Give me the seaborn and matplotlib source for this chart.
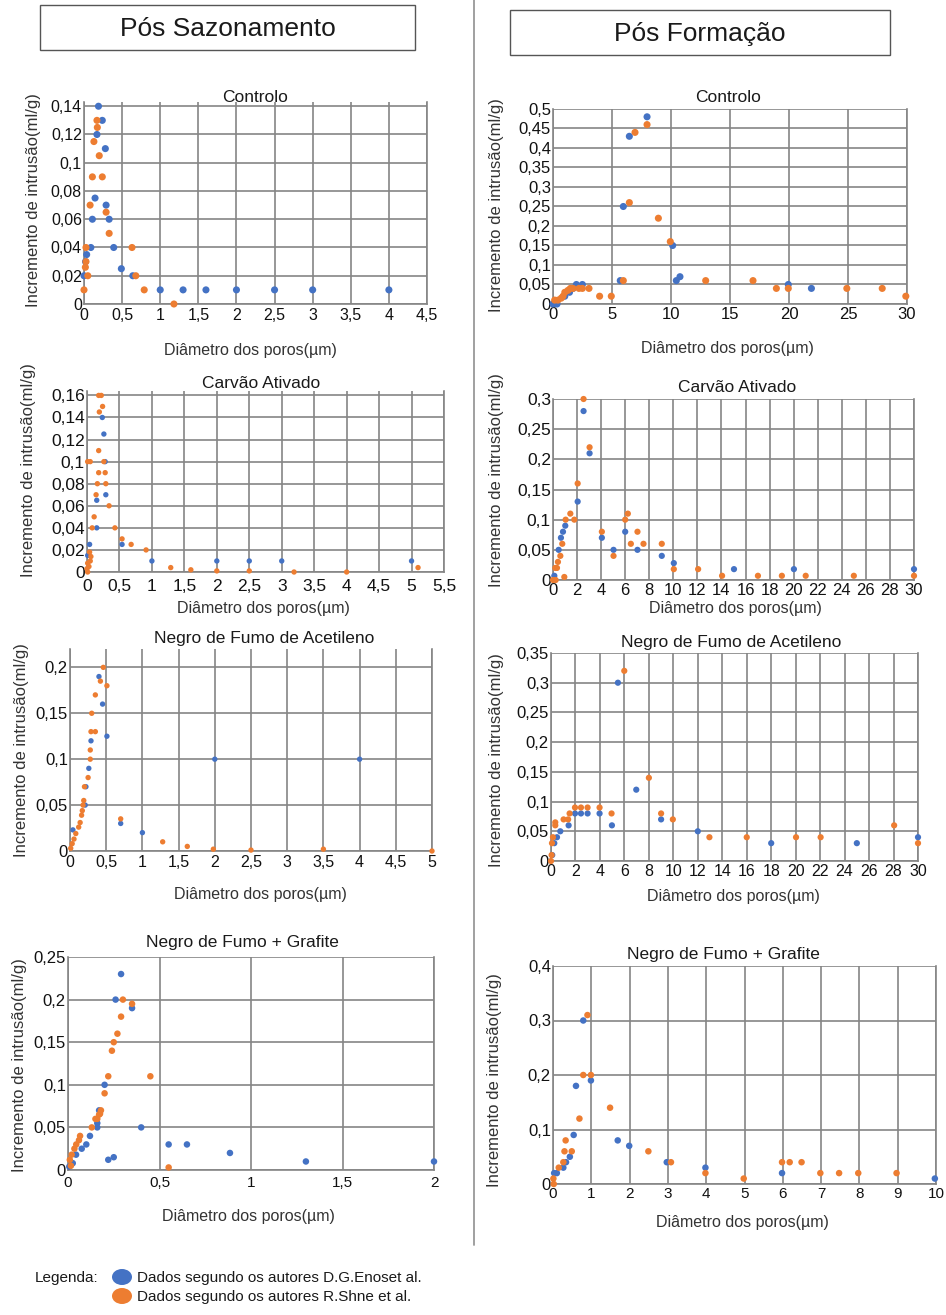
import numpy as np
import pandas as pd
import seaborn as sns
import matplotlib
matplotlib.use('Agg')
import matplotlib.pyplot as plt
from matplotlib.patches import Rectangle, Ellipse
from matplotlib.lines import Line2D
from matplotlib.ticker import MultipleLocator, FuncFormatter

sns.set_style('white')
plt.rcParams['font.family'] = ['Liberation Sans', 'DejaVu Sans']

BLUE = '#4472C4'
ORANGE = '#ED7D31'
GRID = '#858585'

# ---------------- Pós Sazonamento ----------------
# Controlo
saz_ctrl_bx = [0.19, 0.24, 0.17, 0.28, 0.145, 0.29, 0.11, 0.33, 0.09, 0.39, 0.035, 0.02, 0.0, 0.49, 0.64,
               1.0, 1.3, 1.6, 2.0, 2.5, 3.0, 4.0]
saz_ctrl_by = [0.14, 0.13, 0.12, 0.11, 0.075, 0.07, 0.06, 0.06, 0.04, 0.04, 0.035, 0.03, 0.02, 0.025, 0.02,
               0.01, 0.01, 0.01, 0.01, 0.01, 0.01, 0.01]
saz_ctrl_ox = [0.17, 0.175, 0.13, 0.2, 0.11, 0.24, 0.08, 0.29, 0.33, 0.026, 0.63, 0.026, 0.018, 0.05, 0.68,
               0.0, 0.79, 1.18]
saz_ctrl_oy = [0.13, 0.125, 0.115, 0.105, 0.09, 0.09, 0.07, 0.065, 0.05, 0.04, 0.04, 0.03, 0.026, 0.02, 0.02,
               0.01, 0.01, 0.0]

# Carvão Ativado
saz_carv_bx = [0.236, 0.26, 0.28, 0.29, 0.15, 0.15, 0.04, 0.54, 1.0, 2.0, 2.5, 3.0, 5.0, 0.01]
saz_carv_by = [0.14, 0.125, 0.10, 0.07, 0.065, 0.04, 0.025, 0.025, 0.01, 0.01, 0.01, 0.01, 0.01, 0.015]
saz_carv_ox = [0.18, 0.22, 0.24, 0.19, 0.18, 0.01, 0.05, 0.26, 0.18, 0.28, 0.16, 0.29, 0.14, 0.34, 0.11,
               0.08, 0.43, 0.54, 0.68, 0.91, 1.29, 1.6, 2.0, 2.5, 3.19, 4.0, 5.1, 0.04, 0.06, 0.05, 0.01,
               0.0, 0.01, 0.03]
saz_carv_oy = [0.16, 0.16, 0.15, 0.145, 0.11, 0.10, 0.10, 0.10, 0.09, 0.09, 0.08, 0.08, 0.07, 0.06, 0.05,
               0.04, 0.04, 0.03, 0.025, 0.02, 0.004, 0.002, 0.001, 0.001, 0.0, 0.0, 0.004, 0.018, 0.014, 0.01,
               0.008, 0.003, 0.0, 0.005]

# Negro de Fumo de Acetileno
saz_acet_bx = [0.40, 0.45, 0.51, 0.29, 0.26, 0.22, 0.21, 0.70, 1.0, 2.0, 4.0, 0.04]
saz_acet_by = [0.19, 0.16, 0.125, 0.12, 0.09, 0.07, 0.05, 0.03, 0.02, 0.10, 0.10, 0.023]
saz_acet_ox = [0.46, 0.42, 0.51, 0.35, 0.30, 0.29, 0.35, 0.28, 0.28, 0.25, 0.20, 0.19, 0.18, 0.17, 0.16,
               0.14, 0.12, 0.08, 0.055, 0.03, 0.01, 0.70, 1.28, 1.62, 1.98, 2.5, 3.5, 5.0]
saz_acet_oy = [0.20, 0.185, 0.18, 0.17, 0.15, 0.13, 0.13, 0.11, 0.10, 0.08, 0.07, 0.055, 0.05, 0.044, 0.039,
               0.031, 0.026, 0.019, 0.013, 0.008, 0.003, 0.035, 0.01, 0.005, 0.002, 0.001, 0.002, 0.0]

# Negro de Fumo + Grafite
saz_graf_bx = [0.29, 0.26, 0.35, 0.20, 0.17, 0.16, 0.16, 0.12, 0.10, 0.075, 0.044, 0.026, 0.007, 0.22, 0.25,
               0.40, 0.55, 0.65, 0.885, 1.30, 2.0]
saz_graf_by = [0.23, 0.20, 0.19, 0.10, 0.07, 0.05, 0.055, 0.04, 0.03, 0.025, 0.018, 0.008, 0.004, 0.012, 0.015,
               0.05, 0.03, 0.03, 0.02, 0.01, 0.01]
saz_graf_ox = [0.30, 0.35, 0.29, 0.27, 0.25, 0.24, 0.22, 0.45, 0.20, 0.18, 0.175, 0.17, 0.16, 0.15, 0.13,
               0.066, 0.06, 0.045, 0.035, 0.02, 0.016, 0.01, 0.55]
saz_graf_oy = [0.20, 0.195, 0.18, 0.16, 0.15, 0.14, 0.11, 0.11, 0.09, 0.07, 0.066, 0.065, 0.06, 0.06, 0.05,
               0.04, 0.035, 0.03, 0.025, 0.018, 0.005, 0.012, 0.003]

# ---------------- Pós Formação ----------------
# Controlo
form_ctrl_bx = [7.97, 6.47, 5.96, 10.14, 5.7, 10.45, 10.76, 19.94, 21.9, 0.0, 0.34, 1.0, 1.4, 1.7, 1.98, 2.49]
form_ctrl_by = [0.48, 0.43, 0.25, 0.15, 0.06, 0.06, 0.07, 0.05, 0.04, 0.0, 0.0, 0.02, 0.03, 0.04, 0.05, 0.05]
form_ctrl_ox = [7.97, 6.95, 6.47, 8.93, 9.94, 5.96, 12.94, 16.95, 18.93, 19.94, 24.9, 27.9, 29.9, 3.95, 4.94,
                3.05, 2.49, 0.14, 0.42, 0.7, 0.85, 1.0, 1.27, 1.47, 1.7, 2.2]
form_ctrl_oy = [0.46, 0.44, 0.26, 0.22, 0.16, 0.06, 0.06, 0.06, 0.04, 0.04, 0.04, 0.04, 0.02, 0.02, 0.02,
                0.04, 0.04, 0.01, 0.01, 0.015, 0.02, 0.03, 0.035, 0.04, 0.04, 0.04]

# Carvão Ativado
form_carv_bx = [2.54, 3.04, 2.05, 1.02, 0.83, 0.66, 0.47, 0.11, 4.06, 5.03, 6.0, 7.02, 9.04, 10.04, 15.04,
                20.02, 30.0]
form_carv_by = [0.28, 0.21, 0.13, 0.09, 0.08, 0.07, 0.05, 0.007, 0.07, 0.05, 0.08, 0.05, 0.04, 0.028, 0.018,
                0.018, 0.018]
form_carv_ox = [2.54, 3.04, 2.05, 1.44, 1.05, 1.77, 0.77, 0.61, 0.41, 0.33, 0.19, 0.22, 0.0, 0.94, 4.06,
                5.03, 6.0, 6.22, 6.47, 7.02, 7.52, 9.04, 10.04, 12.06, 14.05, 17.03, 19.02, 21.0, 25.0, 30.0]
form_carv_oy = [0.30, 0.22, 0.16, 0.11, 0.10, 0.10, 0.06, 0.04, 0.03, 0.02, 0.02, 0.0, 0.0, 0.005, 0.08,
                0.04, 0.10, 0.11, 0.06, 0.08, 0.06, 0.06, 0.018, 0.018, 0.007, 0.007, 0.007, 0.007, 0.007, 0.007]

# Negro de Fumo de Acetileno
form_acet_bx = [5.47, 6.97, 9.0, 12.0, 4.98, 3.97, 2.99, 2.45, 1.96, 1.44, 0.76, 0.49, 0.27, 0.1, 18.0,
                25.0, 30.0]
form_acet_by = [0.30, 0.12, 0.07, 0.05, 0.06, 0.08, 0.08, 0.08, 0.08, 0.06, 0.05, 0.04, 0.03, 0.01, 0.03,
                0.03, 0.04]
form_acet_ox = [5.99, 8.0, 9.0, 9.96, 4.95, 3.97, 2.99, 2.45, 1.96, 1.52, 1.03, 1.4, 0.35, 0.35, 0.16,
                0.08, 0.0, 0.05, 12.95, 16.0, 20.03, 22.04, 28.05, 30.0]
form_acet_oy = [0.32, 0.14, 0.08, 0.07, 0.08, 0.09, 0.09, 0.09, 0.09, 0.08, 0.07, 0.07, 0.065, 0.06, 0.04,
                0.03, 0.0, 0.01, 0.04, 0.04, 0.04, 0.04, 0.06, 0.03]

# Negro de Fumo + Grafite
form_graf_bx = [0.79, 0.60, 0.99, 0.54, 0.44, 0.34, 0.27, 0.10, 0.03, 1.69, 1.99, 2.97, 3.98, 5.98, 9.97]
form_graf_by = [0.30, 0.18, 0.19, 0.09, 0.05, 0.04, 0.03, 0.02, 0.02, 0.08, 0.07, 0.04, 0.03, 0.02, 0.01]
form_graf_ox = [0.90, 0.79, 0.99, 1.49, 0.69, 0.33, 0.30, 0.49, 0.27, 0.15, 0.01, 2.49, 3.08, 3.98, 4.98,
                5.98, 6.18, 6.49, 6.98, 7.47, 7.97, 8.97, 0.02]
form_graf_oy = [0.31, 0.20, 0.20, 0.14, 0.12, 0.08, 0.06, 0.06, 0.04, 0.03, 0.01, 0.06, 0.04, 0.02, 0.01,
                0.04, 0.04, 0.04, 0.02, 0.02, 0.02, 0.02, 0.0]

W, H = 946, 1315
fig = plt.figure(figsize=(W / 100, H / 100), dpi=100)
fig.patch.set_facecolor('white')

YLAB = 'Incremento de intrusão(ml/g)'
XLAB = 'Diâmetro dos poros(µm)'


def fx(x):
    return x / W


def fy(y):
    return 1 - y / H


comma = FuncFormatter(lambda v, p: ('%g' % round(v, 4)).replace('.', ','))


def panel(box, bx, by, ox, oy, xmax, xstep, ymax, ystep, size, title, tpos, xlpos, ylpos,
          tfs=12, xfs=12, xpad=2):
    l, t, r, b = box
    ax = fig.add_axes([fx(l), fy(b), fx(r - l), (b - t) / H])
    df = pd.DataFrame({'d': bx + ox, 'inc': by + oy,
                       'fonte': ['DG'] * len(bx) + ['RS'] * len(ox)})
    sns.scatterplot(data=df, x='d', y='inc', hue='fonte', palette={'DG': BLUE, 'RS': ORANGE},
                    s=size, linewidth=0, legend=False, clip_on=False, zorder=3, ax=ax)
    ax.set_xlim(0, xmax)
    ax.set_ylim(0, ymax)
    ax.xaxis.set_major_locator(MultipleLocator(xstep))
    ax.yaxis.set_major_locator(MultipleLocator(ystep))
    ax.xaxis.set_major_formatter(comma)
    ax.yaxis.set_major_formatter(comma)
    ax.grid(True, color=GRID, lw=1.2)
    ax.set_axisbelow(True)
    for s in ['left', 'bottom', 'right']:
        ax.spines[s].set_color(GRID)
        ax.spines[s].set_linewidth(1.2)
    ax.spines['top'].set_visible(False)
    ax.tick_params(length=0, pad=1.5, labelsize=tfs, colors='#111111')
    ax.tick_params(axis='x', labelsize=xfs, pad=xpad)
    ax.set_xlabel('')
    ax.set_ylabel('')
    fig.text(fx(tpos[0]), fy(tpos[1]), title, ha='center', va='center', fontsize=12.5, color='#1a1a1a')
    fig.text(fx(xlpos[0]), fy(xlpos[1]), XLAB, ha='center', va='center', fontsize=11.5, color='#333333')
    fig.text(fx(ylpos[0]), fy(ylpos[1]), YLAB, ha='center', va='center', rotation=90,
             fontsize=12, color='#333333')
    return ax


# left column
panel((84, 102, 427, 304), saz_ctrl_bx, saz_ctrl_by, saz_ctrl_ox, saz_ctrl_oy, 4.5, 0.5, 0.143, 0.02, 26,
      'Controlo', (255, 97), (250, 350), (34, 200), tfs=11.5, xfs=11.5, xpad=3)
panel((87, 391, 444, 572), saz_carv_bx, saz_carv_by, saz_carv_ox, saz_carv_oy, 5.5, 0.5, 0.164, 0.02, 15,
      'Carvão Ativado', (261, 383), (263, 608), (28, 470), tfs=12.5, xfs=12.5, xpad=5)
panel((70, 649, 432, 851), saz_acet_bx, saz_acet_by, saz_acet_ox, saz_acet_oy, 5, 0.5, 0.22, 0.05, 15,
      'Negro de Fumo de Acetileno', (264, 638), (260, 895), (22, 750), tfs=12, xfs=11.5, xpad=3)
panel((68, 957, 434, 1170), saz_graf_bx, saz_graf_by, saz_graf_ox, saz_graf_oy, 2, 0.5, 0.25, 0.05, 22,
      'Negro de Fumo + Grafite', (242, 942), (248, 1217), (20, 1065), tfs=12, xfs=11, xpad=4)

# right column
panel((553, 109, 907, 304), form_ctrl_bx, form_ctrl_by, form_ctrl_ox, form_ctrl_oy, 30, 5, 0.5, 0.05, 26,
      'Controlo', (728, 98), (727, 349), (497, 205), tfs=12, xfs=12)
panel((553, 399, 914, 580), form_carv_bx, form_carv_by, form_carv_ox, form_carv_oy, 30, 2, 0.3, 0.05, 20,
      'Carvão Ativado', (737, 388), (735, 608), (496, 480), tfs=12.5, xfs=12)
panel((551, 653, 918, 861), form_acet_bx, form_acet_by, form_acet_ox, form_acet_oy, 30, 2, 0.35, 0.05, 20,
      'Negro de Fumo de Acetileno', (731, 643), (733, 897), (497, 760), tfs=12, xfs=11.5)
panel((553, 966, 936, 1184), form_graf_bx, form_graf_by, form_graf_ox, form_graf_oy, 10, 1, 0.4, 0.1, 22,
      'Negro de Fumo + Grafite', (723, 955), (742, 1222), (494, 1080), tfs=12, xfs=11)

# header boxes
for (l, t, r, b, txt) in [(40, 5, 415, 50, 'Pós Sazonamento'), (510, 10, 890, 55, 'Pós Formação')]:
    fig.patches.append(Rectangle((fx(l), fy(b)), fx(r - l), (b - t) / H, transform=fig.transFigure,
                                 fill=False, edgecolor='#555555', lw=1.0))
    fig.text(fx((l + r) / 2), fy((t + b) / 2 + 1), txt, ha='center', va='center', fontsize=19, color='#1a1a1a')

# vertical divider
fig.add_artist(Line2D([fx(474), fx(474)], [fy(0), fy(1245)], color='#999999', lw=1.3,
                      transform=fig.transFigure))

# legend
fig.text(fx(35), fy(1278), 'Legenda:', ha='left', va='center', fontsize=11, color='#1a1a1a')
for yy, col, txt in [(1277, BLUE, 'Dados segundo os autores D.G.Enoset al.'),
                     (1296, ORANGE, 'Dados segundo os autores R.Shne et al.')]:
    fig.patches.append(Ellipse((fx(122), fy(yy)), fx(20), 16 / H, transform=fig.transFigure,
                               facecolor=col, edgecolor='none'))
    fig.text(fx(137), fy(yy + 1), txt, ha='left', va='center', fontsize=11, color='#1a1a1a')

plt.savefig('out.png', dpi=100)
